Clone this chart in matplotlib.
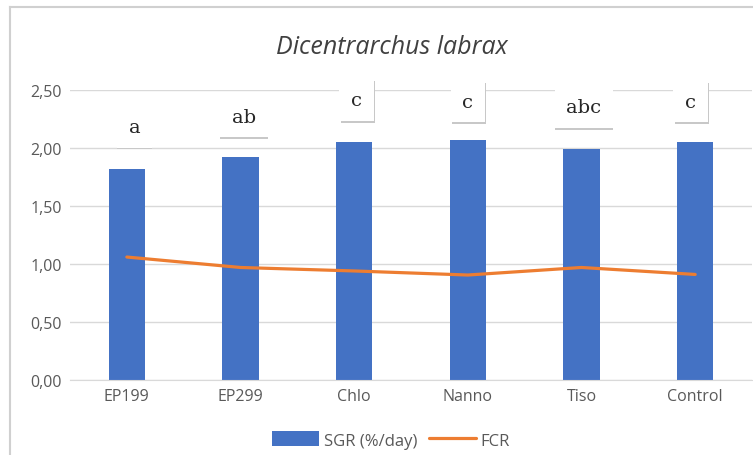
import matplotlib
matplotlib.use("Agg")
import matplotlib.pyplot as plt
import matplotlib.patheffects as pe
from matplotlib.lines import Line2D
import numpy as np

categories = ["EP199", "EP299", "Chlo", "Nanno", "Tiso", "Control"]
sgr = [1.82, 1.92, 2.05, 2.07, 1.99, 2.05]
fcr = [1.06, 0.97, 0.94, 0.905, 0.97, 0.91]
letters = ["a", "ab", "c", "c", "abc", "c"]
letter_y = [2.18, 2.27, 2.41, 2.40, 2.35, 2.40]
letter_dx = [0.07, 0.03, 0.02, 0.0, 0.02, -0.04]
yticks = [0, 0.5, 1.0, 1.5, 2.0, 2.5]

fig = plt.figure(figsize=(7.53, 4.56), dpi=100)
ax = fig.add_axes([70/753, 1-381/456, 682/753, 290/456])
x = np.arange(len(categories))

bars = ax.bar(x, sgr, width=0.32, color="#4472C4", label="SGR (%/day)", zorder=2)
line, = ax.plot(x, fcr, color="#ED7D31", lw=2.3, label="FCR", zorder=3, solid_capstyle="round")

ax.set_xlim(-0.5, len(categories)-0.5)
ax.set_ylim(0, 2.5)
ax.set_yticks(yticks)
ax.set_yticklabels([f"{v:.2f}".replace(".", ",") for v in yticks])
ax.set_xticks(x)
ax.set_xticklabels(categories)
ax.grid(axis="y", color="#d9d9d9", lw=1, zorder=0)
ax.set_axisbelow(True)
for s in ["left", "right", "top"]:
    ax.spines[s].set_visible(False)
ax.spines["bottom"].set_color("#d9d9d9")
ax.tick_params(axis="both", length=0, colors="#595959", labelsize=11.5)
ax.tick_params(axis="x", pad=6)
ax.tick_params(axis="y", pad=6)
for lab in ax.get_xticklabels() + ax.get_yticklabels():
    lab.set_fontfamily("Open Sans")

for xi, l, ly, dx in zip(x, letters, letter_y, letter_dx):
    right_shadow = 1 if l == "c" else 0
    t = ax.text(xi + dx, ly, l, ha="center", va="center", fontsize=14,
                family="DejaVu Serif", color="#262626", zorder=5,
                bbox=dict(facecolor="white", edgecolor="none", boxstyle="square,pad=0.6"))
    t.get_bbox_patch().set_path_effects([pe.SimplePatchShadow(offset=(right_shadow, -1.2), shadow_rgbFace="#c8c8c8", alpha=1), pe.Normal()])

fig.text(392/753, 1-48/456, "Dicentrarchus labrax", ha="center", va="center",
         fontsize=18, style="italic", family="Open Sans", color="#404040")

fig.legend(handles=[bars, line], labels=["SGR (%/day)", "FCR"], loc="center",
           bbox_to_anchor=(391/753, 1-441/456), ncol=2, frameon=False,
           prop={"family": "Open Sans", "size": 12}, labelcolor="#595959",
           handlelength=2.8, handleheight=1.0, columnspacing=0.7, handletextpad=0.3)

fig.add_artist(Line2D([10/753, 10/753], [0, 1-8/456], color="#d0d0d0", lw=1.5, transform=fig.transFigure))
fig.add_artist(Line2D([10/753, 1], [1-8/456, 1-8/456], color="#d0d0d0", lw=1.5, transform=fig.transFigure))

fig.savefig("out.png", dpi=100)
